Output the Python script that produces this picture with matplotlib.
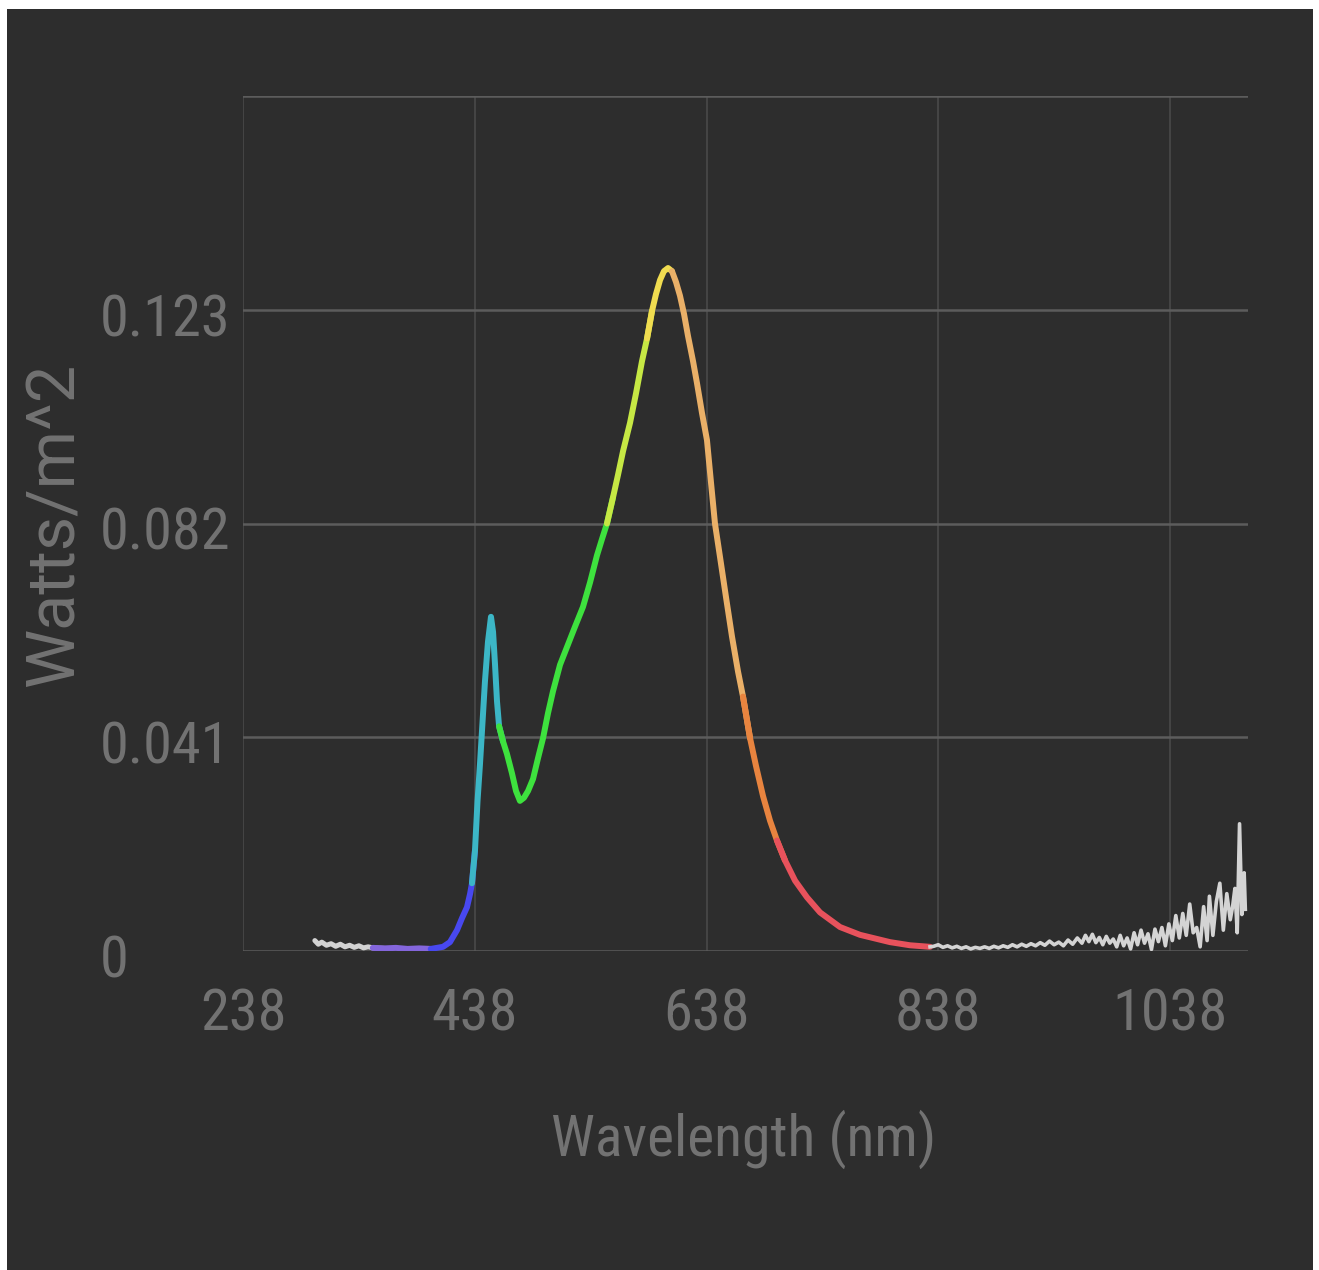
import matplotlib
matplotlib.use("Agg")
import matplotlib.pyplot as plt
from matplotlib.patches import Rectangle
from matplotlib.transforms import ScaledTranslation
from matplotlib import font_manager
import numpy as np

# ---------------- data ----------------
wavelength = [300, 303, 306, 310, 314, 318, 322, 326, 330, 334, 338, 342, 346, 350,
              360, 370, 380, 390, 400, 410.6, 416.6, 422.7, 427, 431.3, 434, 435.6,
              438.2, 440.4, 442.5, 445, 446.8, 449.4, 452, 453.8, 455.5, 457.2, 459,
              462.4, 465.8, 470.1, 473.6, 477, 480.5, 484, 488.3, 492.6, 496.9, 501.2,
              505.5, 511.6, 517.6, 524.5, 531.4, 537.5, 543.5, 547.8, 552.1, 557.3,
              561.6, 566, 572, 577.2, 582.3, 586.7, 591, 594.4, 597.9, 601.3, 604.8,
              608.2, 611.7, 615.1, 618.6, 622, 626.4, 629.8, 634.1, 638.4, 641.9, 645.3,
              649.7, 654.8, 660, 665.2, 669.5, 675.6, 680.7, 686.8, 692.8, 698.8, 705.7,
              714.4, 724.7, 736, 753.2, 770.5, 796.4, 813.6, 830.9]
irradiance = [0.0020, 0.0013, 0.0017, 0.0011, 0.0014, 0.0009, 0.0013, 0.0008, 0.0011,
              0.0007, 0.0010, 0.0006, 0.0008, 0.0006,
              0.0005, 0.0006, 0.0004, 0.0005, 0.0004, 0.0008, 0.0017, 0.0040, 0.0063,
              0.0084, 0.0110, 0.0130,
              0.0193, 0.0288, 0.0358, 0.0450, 0.0517, 0.0593, 0.0641, 0.0612, 0.0549,
              0.0479, 0.0431,
              0.0402, 0.0378, 0.0341, 0.0307, 0.0288, 0.0294, 0.0307, 0.0330, 0.0370,
              0.0408, 0.0456,
              0.0498, 0.0549, 0.0583, 0.0622, 0.0660, 0.0707, 0.0759, 0.0790, 0.0820,
              0.0870,
              0.0913, 0.0959, 0.1013, 0.1070, 0.1131, 0.1175, 0.1228, 0.1260, 0.1287,
              0.1304, 0.1310,
              0.1304, 0.1283, 0.1257, 0.1222, 0.1180, 0.1131, 0.1089, 0.1032, 0.0980,
              0.0898, 0.0820,
              0.0755, 0.0679, 0.0603, 0.0536, 0.0488, 0.0408, 0.0355, 0.0297, 0.0250,
              0.0212, 0.0174,
              0.0135, 0.0103, 0.0074, 0.0046, 0.0031, 0.0017, 0.0011, 0.0008]

noise_wavelength = [830.9, 834, 838, 842, 846, 850, 854, 858, 862, 866, 870, 874, 878, 882,
                    886, 890, 894, 898, 902, 906, 910, 914, 918, 922, 926, 930, 934, 938,
                    942, 946, 950, 954, 958, 962, 965, 968, 971, 974, 977, 980, 983, 986,
                    989, 992, 995, 998, 1001, 1004, 1007, 1010, 1013, 1016, 1019, 1022,
                    1025, 1028, 1031, 1034, 1037, 1040, 1043, 1046, 1049, 1052, 1055,
                    1058, 1061, 1064, 1067, 1070, 1072, 1075, 1078, 1081, 1084, 1087,
                    1090, 1092, 1094, 1096, 1098, 1100, 1102, 1103]
noise_irradiance = [0.0008, 0.0009, 0.0012, 0.0007, 0.0010, 0.0006, 0.0009, 0.0005, 0.0008,
                    0.0004, 0.0007, 0.0005, 0.0008, 0.0005, 0.0009, 0.0006, 0.0010, 0.0007,
                    0.0012, 0.0008, 0.0013, 0.0009, 0.0014, 0.0010, 0.0016, 0.0011, 0.0019,
                    0.0012, 0.0017, 0.0010, 0.0021, 0.0013, 0.0025, 0.0015, 0.0030, 0.0018,
                    0.0032, 0.0016, 0.0026, 0.0012, 0.0028, 0.0015, 0.0023, 0.0008, 0.0030,
                    0.0010, 0.0025, 0.0004, 0.0035, 0.0012, 0.0040, 0.0015, 0.0033, 0.0003,
                    0.0042, 0.0018, 0.0045, 0.0010, 0.0052, 0.0020, 0.0068, 0.0025, 0.0072,
                    0.0030, 0.0090, 0.0035, 0.0045, 0.0008, 0.0085, 0.0020, 0.0105, 0.0030,
                    0.0095, 0.0130, 0.0040, 0.0110, 0.0060, 0.0085, 0.0120, 0.0035, 0.0244,
                    0.0070, 0.0150, 0.0080]

x_ticks = [238, 438, 638, 838, 1038]
y_ticks = [0, 0.041, 0.082, 0.123]
y_tick_labels = ["0", "0.041", "0.082", "0.123"]

# colour bands (nm ranges)
band_edges = [300, 350, 392, 435.6, 459, 552.1, 586.7, 606, 669.5, 698.8, 830.9]
band_colors = ["#d2d2d2", "#8466dc", "#4848f0", "#3cb6c6", "#3ee23e", "#c6e844",
               "#f0dc50", "#eab068", "#e8843f", "#e8525c"]

# ---------------- fonts ----------------
available = {f.name for f in font_manager.fontManager.ttflist}
if "Roboto Condensed" in available:
    tick_font, tick_size, xl_size = "Roboto Condensed", 42, 41.5
elif "Liberation Sans Narrow" in available:
    tick_font, tick_size, xl_size = "Liberation Sans Narrow", 42, 42
else:
    tick_font, tick_size, xl_size = "Roboto", 37, 37

# ---------------- figure ----------------
W, H = 1319, 1270
fig = plt.figure(figsize=(W / 100, H / 100), dpi=100, facecolor="white")
fig.patches.append(Rectangle((7 / W, 0), (1313 - 7) / W, (H - 9) / H,
                             transform=fig.transFigure, facecolor="#2d2d2d",
                             edgecolor="none", zorder=-10))

ax = fig.add_axes([243 / W, (H - 951) / H, (1248 - 243) / W, (951 - 96) / H])
ax.set_facecolor("#2d2d2d")
ax.set_xlim(238, 1105.3)
ax.set_ylim(0, 0.164)

for s in ax.spines.values():
    s.set_visible(False)

for xv in x_ticks:
    ax.axvline(xv, color="#474747", lw=1.3, zorder=1)
for yv in y_ticks + [0.164]:
    ax.axhline(yv, color="#5c5c5c", lw=1.8, zorder=1)

wl = np.array(wavelength)
irr = np.array(irradiance)
for i, col in enumerate(band_colors):
    lo, hi = band_edges[i], band_edges[i + 1]
    idx = np.where((wl >= lo) & (wl <= hi))[0]
    if len(idx) == 0:
        continue
    a = idx[0]
    b = min(idx[-1] + 1, len(wl) - 1)
    lw = 3.6 if i == 0 else 4.3
    ax.plot(wl[a:b + 1], irr[a:b + 1], color=col, lw=lw, solid_capstyle="round",
            solid_joinstyle="round", zorder=3)

ax.plot(noise_wavelength, noise_irradiance, color="#d4d4d4", lw=2.6,
        solid_joinstyle="round", zorder=3)

ax.set_xticks(x_ticks)
ax.set_xticklabels([str(v) for v in x_ticks])
ax.set_yticks(y_ticks)
ax.set_yticklabels(y_tick_labels)
ax.tick_params(axis="both", length=0, labelsize=tick_size, labelcolor="#727272")
ax.tick_params(axis="x", pad=26)
ax.tick_params(axis="y", pad=103)
for lab in ax.get_xticklabels():
    lab.set_family(tick_font)
shift = ScaledTranslation(0, -5 / 100, fig.dpi_scale_trans)
for lab in ax.get_yticklabels():
    lab.set_family(tick_font)
    lab.set_horizontalalignment("left")
    lab.set_transform(lab.get_transform() + shift)

fig.text(744 / W, 1 - 1139 / H, "Wavelength (nm)", ha="center", va="center",
         fontsize=xl_size, color="#727272", family=tick_font)
fig.text(56 / W, 1 - 525 / H, "Watts/m^2", ha="center", va="center", rotation=90,
         fontsize=48, color="#727272", family="Roboto")

fig.savefig("out.png", dpi=100, facecolor=fig.get_facecolor())
